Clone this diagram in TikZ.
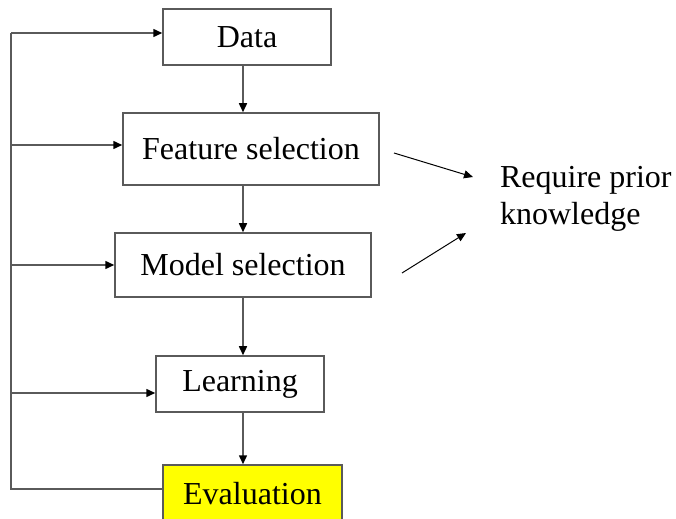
\documentclass[tikz,border=0pt]{standalone}
\usepackage{fontspec}
\setmainfont{Liberation Serif}
\usepackage{tikz}
\usetikzlibrary{positioning, arrows.meta, calc}
\definecolor{flLine}{HTML}{5A5A5A}
\definecolor{flYellow}{HTML}{FFFF00}
\tikzset{
  stage/.style ={draw=flLine, line width=0.75pt, fill=white, inner sep=0pt,
                 font=\fontsize{16}{19}\selectfont},
  arr/.style   ={-{Triangle[length=4.5pt,width=4pt,color=black]}, line width=0.75pt, flLine},
  feed/.style  ={line width=0.75pt, flLine},
  hint/.style  ={-{Triangle[length=4.5pt,width=4pt]}, line width=0.5pt, black},
}
\begin{document}
\begin{tikzpicture}[x=0.5pt, y=-0.5pt]
\useasboundingbox (0,0) rectangle (676,519);

% ---- the pipeline ----
\node[stage, minimum width=84pt,  minimum height=28pt] (data)  at (247,37)  {Data};
\node[stage, minimum width=128pt, minimum height=36pt] (feat)  at (251,149) {Feature selection};
\node[stage, minimum width=128pt, minimum height=32pt] (model) at (243,265) {Model selection};
\node[stage, minimum width=84pt,  minimum height=28pt] (learn) at (240,384) {Learning};
\node[stage, fill=flYellow, minimum width=89.5pt, minimum height=28.5pt] (eval) at (252.5,493.5) {Evaluation};
\foreach \a/\b in {data/feat,feat/model,model/learn,learn/eval}{\draw[arr] (\a.south -| model) -- (\b.north -| model);}

% ---- feedback bus on the left ----
\coordinate (b1) at (11,33);
\coordinate (b2) at (11,145);
\coordinate (b3) at (11,265);
\coordinate (b4) at (11,393);
\coordinate (b5) at (11,489);
\draw[feed] (eval.west |- b5) -- (b5) -- (b1);
\foreach \c/\n in {b1/data,b2/feat,b3/model,b4/learn}{\draw[arr] (\c) -- (\c -| \n.west);}

% ---- remark ----
\node[anchor=west, align=left, font=\fontsize{16}{18.5}\selectfont] (req) at (493,199) {Require prior\\knowledge};
\coordinate (f1) at (394,153); \coordinate (f2) at (473,177);
\coordinate (m1) at (402,273); \coordinate (m2) at (466,233);
\draw[hint] (f1) -- (f2);
\draw[hint] (m1) -- (m2);
\end{tikzpicture}
\end{document}
